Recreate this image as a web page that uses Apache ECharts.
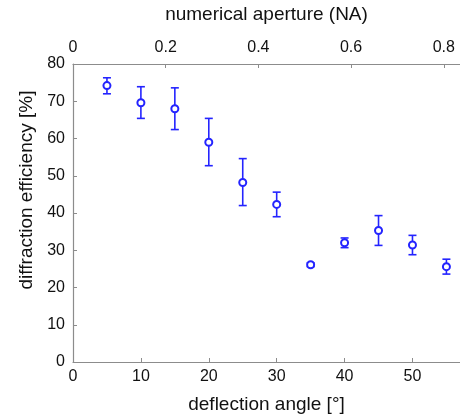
<!DOCTYPE html>
<html>
<head>
<meta charset="utf-8">
<script src="https://cdn.jsdelivr.net/npm/echarts@6/dist/echarts.min.js"></script>
<style>
html, body { margin: 0; padding: 0; background: #fff; }
#chart { width: 460px; height: 419px; }
</style>
</head>
<body>
<div id="chart"></div>
<script>
// deflection angle [deg]
var angles = [5, 10, 15, 20, 25, 30, 35, 40, 45, 50, 55];
// diffraction efficiency [%]
var efficiency = [74.2, 69.6, 68.0, 59.0, 48.2, 42.3, 26.1, 32.0, 35.3, 31.4, 25.6];
var errLow = [72.0, 65.4, 62.4, 52.7, 42.0, 39.0, 25.6, 30.7, 31.3, 28.8, 23.6];
var errHigh = [76.3, 73.9, 73.6, 65.4, 54.6, 45.6, 26.6, 33.3, 39.3, 34.0, 27.6];

var blue = '#2424ff';
var axisGrey = '#8c8c8c';
var font = 'Liberation Sans, Arial, sans-serif';

var points = angles.map(function (a, i) { return [a, efficiency[i]]; });
var bars = angles.map(function (a, i) { return [a, errLow[i], errHigh[i]]; });

var chart = echarts.init(document.getElementById('chart'));
chart.setOption({
  animation: false,
  grid: { left: 73, top: 59, right: 0, bottom: 52 },
  xAxis: [{
    type: 'value',
    position: 'bottom',
    min: 0, max: 57, interval: 10,
    name: 'deflection angle [°]',
    nameLocation: 'middle',
    nameGap: 33,
    nameTextStyle: { fontFamily: font, fontSize: 19, color: '#111' },
    axisLine: { show: true, lineStyle: { color: axisGrey, width: 1.2 } },
    axisTick: { show: true, inside: true, length: 4, lineStyle: { color: axisGrey } },
    axisLabel: { fontFamily: font, fontSize: 16, color: '#111', margin: 7, showMaxLabel: false },
    splitLine: { show: false }
  }, {
    type: 'value',
    position: 'top',
    min: 0, max: 0.835, interval: 0.2,
    name: 'numerical aperture (NA)',
    nameLocation: 'middle',
    nameGap: 40,
    nameTextStyle: { fontFamily: font, fontSize: 19, color: '#111' },
    axisLine: { show: true, lineStyle: { color: axisGrey, width: 1.2 } },
    axisTick: { show: true, inside: true, length: 4, lineStyle: { color: axisGrey } },
    axisLabel: { fontFamily: font, fontSize: 16, color: '#111', margin: 8, showMaxLabel: false },
    splitLine: { show: false }
  }],
  yAxis: {
    type: 'value',
    min: 0, max: 80, interval: 10,
    name: 'diffraction efficiency [%]',
    nameLocation: 'middle',
    nameGap: 37,
    nameTextStyle: { fontFamily: font, fontSize: 19, color: '#111', padding: [0, 0, 0, 46] },
    axisLine: { show: true, lineStyle: { color: axisGrey, width: 1.2 } },
    axisTick: { show: true, inside: true, length: 4, lineStyle: { color: axisGrey } },
    axisLabel: { fontFamily: font, fontSize: 16, color: '#111', margin: 8 },
    splitLine: { show: false }
  },
  series: [{
    type: 'custom',
    xAxisIndex: 0,
    data: bars,
    renderItem: function (params, api) {
      var x = api.value(0);
      var lo = api.coord([x, api.value(1)]);
      var hi = api.coord([x, api.value(2)]);
      var cap = 4;
      var st = { stroke: blue, lineWidth: 1.6 };
      return {
        type: 'group',
        children: [
          { type: 'line', shape: { x1: lo[0], y1: lo[1], x2: hi[0], y2: hi[1] }, style: st },
          { type: 'line', shape: { x1: hi[0] - cap, y1: hi[1], x2: hi[0] + cap, y2: hi[1] }, style: st },
          { type: 'line', shape: { x1: lo[0] - cap, y1: lo[1], x2: lo[0] + cap, y2: lo[1] }, style: st }
        ]
      };
    }
  }, {
    type: 'scatter',
    xAxisIndex: 0,
    data: points,
    symbol: 'emptyCircle',
    symbolSize: 7,
    itemStyle: { color: blue, borderColor: blue, borderWidth: 1.2, opacity: 1 },
    z: 3
  }]
});
</script>
</body>
</html>
